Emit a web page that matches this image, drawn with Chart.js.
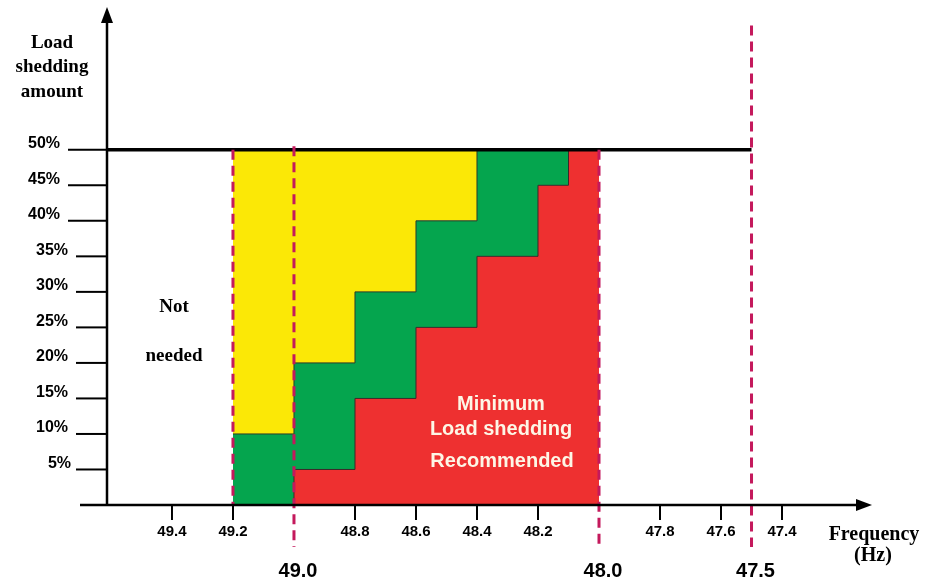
<!DOCTYPE html>
<html>
<head>
<meta charset="utf-8">
<script src="https://cdn.jsdelivr.net/npm/chart.js@4.4.0/dist/chart.umd.min.js"></script>
<style>
  html, body { margin: 0; padding: 0; background: #fff; }
  #wrap { width: 929px; height: 582px; }
</style>
</head>
<body>
<div id="wrap"><canvas id="shedding-chart" width="929" height="582"></canvas></div>
<script>
// ---- datos ----
const freqSteps = [49.2, 49.0, 48.8, 48.6, 48.4, 48.2, 48.1, 48.0];
const minShedding = [0, 5, 15, 25, 35, 45, 50, 50];      // rojo (mínimo recomendado)
const partShedding = [10, 20, 30, 40, 50, 50, 50, 50];   // verde
const maxShedding = [50, 50, 50, 50, 50, 50, 50, 50];    // amarillo
const yTicks = [5, 10, 15, 20, 25, 30, 35, 40, 45, 50];
const xTicks = [49.4, 49.2, 48.8, 48.6, 48.4, 48.2, 47.8, 47.6, 47.4];
const keyFreqs = [49.0, 48.0, 47.5];
const dashFreqs = [49.2, 49.0, 48.0, 47.5];
const dashTops = [50, 50.5, 50, 67.5];
const capValue = 50;
const capEnd = 47.5;

const toPoints = (vals) => freqSteps.map((f, i) => ({ x: f, y: vals[i] }));

const serif = '"Liberation Serif", "Times New Roman", serif';
const sans = '"Liberation Sans", Arial, sans-serif';

// Ejes, marcas, líneas discontinuas y textos
const overlay = {
  id: 'overlay',
  afterDatasetsDraw(chart) {
    const ctx = chart.ctx;
    const xs = chart.scales.x;
    const ys = chart.scales.y;
    const area = chart.chartArea;
    const y0 = ys.getPixelForValue(0);
    const x0 = area.left;

    ctx.save();
    // línea negra del 50%
    ctx.strokeStyle = '#000';
    ctx.lineWidth = 3.5;
    ctx.beginPath();
    ctx.moveTo(x0, ys.getPixelForValue(capValue));
    ctx.lineTo(xs.getPixelForValue(capEnd), ys.getPixelForValue(capValue));
    ctx.stroke();

    // líneas discontinuas
    ctx.strokeStyle = '#c4195c';
    ctx.lineWidth = 3;
    ctx.setLineDash([10, 6]);
    dashFreqs.forEach((f, i) => {
      const px = xs.getPixelForValue(f);
      ctx.beginPath();
      ctx.moveTo(px, ys.getPixelForValue(dashTops[i]));
      ctx.lineTo(px, i === 0 ? y0 : y0 + 42);
      ctx.stroke();
    });
    ctx.setLineDash([]);

    // ejes
    ctx.strokeStyle = '#000';
    ctx.fillStyle = '#000';
    ctx.lineWidth = 2.5;
    ctx.beginPath();
    ctx.moveTo(x0 - 27, y0);
    ctx.lineTo(area.right - 12, y0);
    ctx.moveTo(x0, y0);
    ctx.lineTo(x0, area.top + 12);
    ctx.stroke();
    // flechas
    ctx.beginPath();
    ctx.moveTo(area.right, y0);
    ctx.lineTo(area.right - 16, y0 - 6);
    ctx.lineTo(area.right - 16, y0 + 6);
    ctx.closePath();
    ctx.fill();
    ctx.beginPath();
    ctx.moveTo(x0, area.top);
    ctx.lineTo(x0 - 6, area.top + 16);
    ctx.lineTo(x0 + 6, area.top + 16);
    ctx.closePath();
    ctx.fill();

    // marcas y etiquetas del eje Y
    ctx.lineWidth = 2;
    ctx.font = 'bold 16px ' + sans;
    ctx.textAlign = 'right';
    ctx.textBaseline = 'middle';
    yTicks.forEach(v => {
      const py = ys.getPixelForValue(v);
      const shift = v >= 40 ? 8 : 0;
      ctx.beginPath();
      ctx.moveTo(x0 - 31 - shift, py);
      ctx.lineTo(x0, py);
      ctx.stroke();
      ctx.fillText(v + '%', x0 - 39 - shift - (v === 5 ? -3 : 0), py - 6);
    });

    // marcas y etiquetas del eje X
    ctx.font = 'bold 15px ' + sans;
    ctx.textAlign = 'center';
    xTicks.forEach(f => {
      const px = xs.getPixelForValue(f);
      ctx.beginPath();
      ctx.moveTo(px, y0);
      ctx.lineTo(px, y0 + 15);
      ctx.stroke();
      ctx.fillText(f.toFixed(1), px, y0 + 27);
    });
    ctx.font = 'bold 20px ' + sans;
    keyFreqs.forEach(f => {
      ctx.fillText(f.toFixed(1), xs.getPixelForValue(f) + 4, y0 + 66);
    });

    // títulos
    ctx.font = 'bold 19px ' + serif;
    ['Load', 'shedding', 'amount'].forEach((t, i) => ctx.fillText(t, 52, 43 + i * 24.5));
    ctx.fillText('Not', 174, 307);
    ctx.fillText('needed', 174, 356);
    ctx.font = 'bold 20px ' + serif;
    ctx.fillText('Frequency', 874, 535);
    ctx.fillText('(Hz)', 873, 556);

    ctx.fillStyle = '#fdf6e6';
    ctx.font = 'bold 20px ' + sans;
    ctx.fillText('Minimum', 501, 404);
    ctx.fillText('Load shedding', 501, 429);
    ctx.fillText('Recommended', 502, 461);
    ctx.restore();
  }
};

const chart = new Chart(document.getElementById('shedding-chart'), {
  type: 'line',
  data: {
    datasets: [
      {
        label: 'Minimum',
        data: toPoints(minShedding),
        stepped: 'before',
        backgroundColor: '#ee3030',
        borderColor: '#3a2a2a',
        borderWidth: 1,
        fill: 'origin',
        pointRadius: 0
      },
      {
        label: 'Partial',
        data: toPoints(partShedding),
        stepped: 'before',
        backgroundColor: '#05a54e',
        borderColor: '#2a3a2a',
        borderWidth: 1,
        fill: '-1',
        pointRadius: 0
      },
      {
        label: 'Maximum',
        data: toPoints(maxShedding),
        stepped: 'before',
        backgroundColor: '#fbe806',
        borderColor: '#fbe806',
        borderWidth: 0,
        fill: '-1',
        pointRadius: 0
      }
    ]
  },
  options: {
    responsive: false,
    animation: false,
    layout: { padding: { left: 107, right: 57, top: 7, bottom: 77 } },
    plugins: { legend: { display: false }, tooltip: { enabled: false } },
    scales: {
      x: { type: 'linear', reverse: true, min: 47.105, max: 49.613, display: false },
      y: { min: 0, max: 70.1, display: false }
    }
  },
  plugins: [overlay]
});
</script>
</body>
</html>
